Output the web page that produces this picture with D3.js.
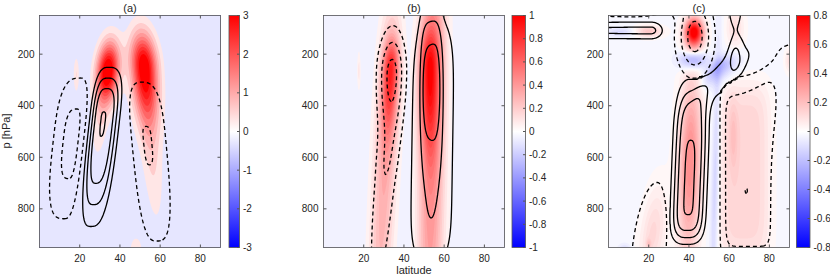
<!DOCTYPE html>
<html>
<head>
<meta charset="utf-8">
<script src="https://cdn.jsdelivr.net/npm/d3@7"></script>
<style>
  body { margin: 0; background: #fff; }
  text { font-family: "Liberation Sans", Arial, Helvetica, sans-serif; fill: #262626; }
</style>
</head>
<body>
<svg width="830" height="276"></svg>
<script>
// each feature row: lat, p, sWest, sEast, sUp, sDown, amplitude, tilt (deg lat per 100 hPa), nLat, nP
// (a) shading and contour lines
const fillA = [
  [34, 265, 3.8, 3.8, 77, 85, 3.5, -1.0, 2, 2],
  [30, 470, 3.0, 3.0, 140, 110, 0.45, -1.0, 2, 2],
  [52, 250, 4.5, 4.5, 90, 150, 3.4, 0.9, 2, 2],
  [56, 600, 3.5, 3.5, 200, 190, 0.55, 0.9, 2, 2],
  [18.3, 280, 1.0, 1.0, 50, 50, 0.6, 0, 2, 2],
  [48, 965, 2.2, 2.2, 40, 40, 0.6, 0, 2, 2]
];
const lineA = [
  [31.5, 455, 4.7, 5.9, 145, 294, 4.02, -1.45, 3, 3],
  [16.7, 530, 8.4, 4.55, 204, 265, -2.2, -1.45, 3, 3],
  [53.5, 535, 6.8, 8.3, 202, 348, -2.02, 1.22, 3, 3]
];
// (b)
const fillB = [
  [33.5, 255, 2.8, 2.8, 80, 170, 0.65, -0.5, 2, 2],
  [31, 550, 4.0, 4.0, 400, 700, 0.35, -0.6, 2, 2],
  [52.5, 250, 3.5, 3.5, 110, 230, 0.65, 0, 2, 2],
  [54, 500, 4.5, 4.5, 800, 900, 0.45, -0.2, 2, 2],
  [17.6, 265, 0.6, 0.6, 55, 55, 0.12, 0, 2, 2]
];
const lineB = [
  [34, 275, 5.0, 4.7, 120, 160, -3.3, -0.3, 2, 2],
  [31, 650, 4.3, 4.3, 150, 400, -1.85, -1.2, 2, 2],
  [53.5, 330, 4.4, 4.4, 206, 183, 1.87, 0, 4, 2],
  [54, 600, 8.6, 8.6, 520, 400, 2.0, -0.2, 2, 6]
];
// (c)
const fillC = [
  [42.5, 115, 3.0, 3.0, 35, 38, 0.85, 0, 2, 2],
  [42, 222, 4.5, 4.5, 22, 25, -0.28, 0, 2, 2],
  [55, 250, 3.5, 5, 30, 45, -0.22, -8, 2, 2],
  [53, 700, 1.3, 1.3, 400, 300, -0.12, -0.3, 2, 2],
  [40.5, 620, 3.8, 3.8, 230, 250, 0.36, -0.3, 2, 2],
  [67, 640, 10, 11, 290, 330, 0.13, 0, 4, 6],
  [62, 520, 1.5, 1.5, 90, 90, 0.08, 0, 2, 2],
  [20, 112, 4.5, 4.5, 15, 15, 0.18, 0, 2, 2],
  [6, 115, 5, 5, 12, 12, -0.1, 0, 2, 2],
  [63, 100, 3, 3, 60, 50, 0.1, 0, 2, 2],
  [22, 900, 4, 4, 120, 100, 0.12, -1.5, 2, 2],
  [20, 935, 0.8, 0.8, 12, 12, 0.1, 0, 2, 2],
  [8, 960, 2, 2, 15, 15, -0.1, 0, 2, 2],
  [90, 225, 1.5, 1.5, 30, 30, 0.1, 0, 2, 2]
];
const lineC = [
  [40, 730, 6.4, 6.4, 353, 169, 4.1, -0.5, 3, 5],
  [58, 280, 7, 7, 90, 80, 1.6, -9.2, 3, 2],
  [63, 195, 2.6, 2.6, 50, 50, 1.2, 0, 2, 2],
  [63, 30, 3.5, 3.5, 70, 70, 1.35, 0, 2, 2],
  [21.2, 108, 80, 4.3, 25, 25, 2.3, 0, 2, 2],
  [43, 132, 6.4, 6.4, 103, 103, -3.5, 0, 2, 2],
  [12, 20, 30, 14, 30, 28, -2.2, 0, 2, 2],
  [69.4, 660, 13.1, 13.1, 343, 335, -2.3, 0, 8, 8],
  [94, 600, 9, 10, 200, 900, -1.5, 0, 6, 2],
  [92, 260, 12, 12, 95, 170, -1.45, 0, 2, 2],
  [68.5, 730, 0.8, 0.8, 14, 14, -0.9, 0, 2, 2],
  [21, 1000, 10.1, 7.5, 312, 300, -1.6, -1.06, 2, 2]
];

const titles = ['(a)', '(b)', '(c)'];
const latTicks = [20, 40, 60, 80];
const pTicks = [200, 400, 600, 800];
const colorMax = [3, 1, 0.8];
const cbTicksA = [-3, -2, -1, 0, 1, 2, 3];
const cbTicksB = [-1, -0.8, -0.6, -0.4, -0.2, 0, 0.2, 0.4, 0.6, 0.8, 1];
const cbTicksC = [-0.8, -0.6, -0.4, -0.2, 0, 0.2, 0.4, 0.6, 0.8];
const fillStep = [0.3, 0.05, 0.025];
const fillBase = [-0.28, -0.045, -0.01];
const levelsA = [-2, -1, 1, 2, 3, 4];
const levelsB = [-3, -2, -1, 1, 2, 3];
const levelsC = [-3, -2, -1, 1, 2, 3, 4];

const svg = d3.select('svg');
const yTop = 15.5, yBot = 247.5;
const panels = [
  {x: [39.5, 220.5], cb: [229, 239.5], fill: fillA, lines: lineA, levels: levelsA, ticks: cbTicksA},
  {x: [323.5, 504.5], cb: [512, 525.5], fill: fillB, lines: lineB, levels: levelsB, ticks: cbTicksB},
  {x: [608.5, 789.5], cb: [796.5, 810], fill: fillC, lines: lineC, levels: levelsC, ticks: cbTicksC}
];

// grid a bit larger than the axes so edge rings fall outside the clip
const gLat = [-6, 96], gP = [20, 980], nx = 204, ny = 192;
const dLat = (gLat[1] - gLat[0]) / nx, dP = (gP[1] - gP[0]) / ny;

function blobValue(b, lat, p) {
  const dp = p - b[1];
  const dx = lat - (b[0] + b[7] * dp / 100);
  const rx = Math.abs(dx / (dx < 0 ? b[2] : b[3]));
  const rp = Math.abs(dp / (dp < 0 ? b[4] : b[5]));
  return b[6] * Math.exp(-0.5 * (Math.pow(rx, b[8]) + Math.pow(rp, b[9])));
}

function grid(fn) {
  const v = new Float64Array(nx * ny);
  for (let j = 0; j < ny; j++) {
    const p = gP[0] + (j + 0.5) * dP;
    for (let i = 0; i < nx; i++) {
      v[j * nx + i] = fn(gLat[0] + (i + 0.5) * dLat, p);
    }
  }
  return v;
}

const defs = svg.append('defs');
const grad = defs.append('linearGradient').attr('id', 'cbgrad')
  .attr('x1', 0).attr('y1', 1).attr('x2', 0).attr('y2', 0);
grad.append('stop').attr('offset', 0).attr('stop-color', '#0000ff');
grad.append('stop').attr('offset', 0.5).attr('stop-color', '#ffffff');
grad.append('stop').attr('offset', 1).attr('stop-color', '#ff0000');

panels.forEach(function(P, k) {
  const m = colorMax[k], step = fillStep[k], base = fillBase[k];
  const x = d3.scaleLinear().domain([0, 90]).range(P.x);
  const y = d3.scaleLinear().domain([50, 950]).range([yTop, yBot]);
  const color = d3.scaleLinear().domain([-m, 0, m])
    .range(['#0000ff', '#ffffff', '#ff0000']).clamp(true);

  const proj = d3.geoTransform({
    point: function(gx, gy) {
      this.stream.point(x(gLat[0] + gx * dLat), y(gP[0] + gy * dP));
    }
  });
  const path = d3.geoPath(proj);

  defs.append('clipPath').attr('id', 'clip' + k)
    .append('rect').attr('x', P.x[0]).attr('y', yTop)
    .attr('width', P.x[1] - P.x[0]).attr('height', yBot - yTop);
  const g = svg.append('g').attr('clip-path', 'url(#clip' + k + ')');

  // shading
  const fillVals = grid(function(lat, p) {
    let s = base;
    P.fill.forEach(function(b) { s += blobValue(b, lat, p); });
    return s;
  });
  const K = Math.round(m / step);
  const th = d3.range(-K - 3, K + 4).map(function(i) { return +(i * step).toFixed(6); });
  d3.contours().size([nx, ny]).thresholds(th)(fillVals).forEach(function(c) {
    const t = c.value;
    const d = path(c);
    if (!d) return;
    g.append('path').attr('d', d)
      .attr('fill', t >= -1e-9 ? color(t + step) : color(t));
  });

  // contour lines: positive and negative parts kept apart
  const lineVals = grid(function(lat, p) {
    let pos = 0, neg = 0;
    P.lines.forEach(function(b) {
      const v = blobValue(b, lat, p);
      if (b[6] > 0) pos += v; else neg += v;
    });
    return pos >= -neg ? pos : neg;
  });
  d3.contours().size([nx, ny]).thresholds(P.levels)(lineVals).forEach(function(c) {
    const d = path(c);
    if (!d) return;
    g.append('path').attr('d', d)
      .attr('fill', 'none')
      .attr('stroke', '#000')
      .attr('stroke-width', 1.3)
      .attr('stroke-dasharray', c.value < 0 ? '4,3' : null);
  });

  // axes box and ticks
  const ax = svg.append('g');
  ax.append('rect').attr('x', P.x[0]).attr('y', yTop)
    .attr('width', P.x[1] - P.x[0]).attr('height', yBot - yTop)
    .attr('fill', 'none').attr('stroke', '#555').attr('stroke-width', 0.8);
  latTicks.forEach(function(v) {
    ax.append('line').attr('x1', x(v)).attr('x2', x(v)).attr('y1', yBot).attr('y2', yBot - 3)
      .attr('stroke', '#555');
    ax.append('line').attr('x1', x(v)).attr('x2', x(v)).attr('y1', yTop).attr('y2', yTop + 3)
      .attr('stroke', '#555');
    ax.append('text').attr('x', x(v)).attr('y', 262)
      .attr('text-anchor', 'middle').attr('font-size', 10).text(v);
  });
  pTicks.forEach(function(v) {
    ax.append('line').attr('x1', P.x[0]).attr('x2', P.x[0] + 3).attr('y1', y(v)).attr('y2', y(v))
      .attr('stroke', '#555');
    ax.append('line').attr('x1', P.x[1]).attr('x2', P.x[1] - 3).attr('y1', y(v)).attr('y2', y(v))
      .attr('stroke', '#555');
    ax.append('text').attr('x', P.x[0] - 5).attr('y', y(v)).attr('dy', '0.35em')
      .attr('text-anchor', 'end').attr('font-size', 10).text(v);
  });
  ax.append('text').attr('x', (P.x[0] + P.x[1]) / 2).attr('y', 12)
    .attr('text-anchor', 'middle').attr('font-size', 11).text(titles[k]);

  // colorbar
  const cy = d3.scaleLinear().domain([-m, m]).range([yBot, yTop]);
  ax.append('rect').attr('x', P.cb[0]).attr('y', yTop)
    .attr('width', P.cb[1] - P.cb[0]).attr('height', yBot - yTop)
    .attr('fill', 'url(#cbgrad)').attr('stroke', '#555').attr('stroke-width', 0.8);
  P.ticks.forEach(function(v) {
    ax.append('line').attr('x1', P.cb[1]).attr('x2', P.cb[1] - 2.5)
      .attr('y1', cy(v)).attr('y2', cy(v)).attr('stroke', '#555');
    ax.append('text').attr('x', P.cb[1] + 3.5).attr('y', cy(v)).attr('dy', '0.35em')
      .attr('font-size', 10).text(String(Math.round(v * 10) / 10));
  });
});

svg.append('text').attr('transform', 'translate(9.5,131) rotate(-90)')
  .attr('text-anchor', 'middle').attr('font-size', 11).text('p [hPa]');
svg.append('text').attr('x', 414).attr('y', 274)
  .attr('text-anchor', 'middle').attr('font-size', 11).text('latitude');
</script>
</body>
</html>
